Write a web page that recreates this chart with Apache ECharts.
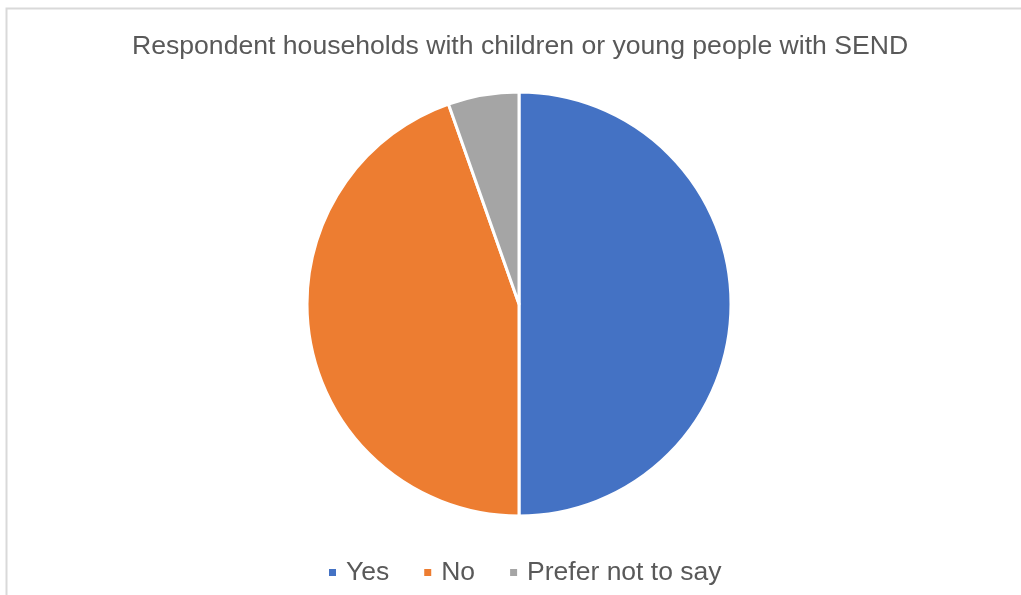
<!DOCTYPE html>
<html><head><meta charset="utf-8">
<script src="https://cdn.jsdelivr.net/npm/echarts@6/dist/echarts.min.js"></script>
<style>html,body{margin:0;padding:0;background:#fff}#c{width:1021px;height:595px}</style>
</head><body><div id="c"></div>
<script>
const titleText = 'Respondent households with children or young people with SEND';
const categories = ['Yes', 'No', 'Prefer not to say'];
const values = [50.0, 44.6, 5.4];
const colors = ['#4472C4', '#ED7D31', '#A5A5A5'];

const chart = echarts.init(document.getElementById('c'), null, {renderer: 'canvas'});
chart.setOption({
  animation: false,
  backgroundColor: '#fff',
  graphic: [{type: 'rect', shape: {x: 6.5, y: 8.5, width: 1100, height: 700}, style: {fill: 'none', stroke: '#D9D9D9', lineWidth: 2}, silent: true}],
  title: {text: titleText, left: 127, top: 28, textStyle: {fontFamily: 'Liberation Sans, Arial, sans-serif', fontSize: 26.6, fontWeight: 'normal', color: '#595959'}},
  legend: {
    data: categories, bottom: 4, left: 322, icon: 'rect', itemWidth: 9, itemHeight: 9, itemGap: 33,
    textStyle: {fontFamily: 'Liberation Sans, Arial, sans-serif', fontSize: 26.5, color: '#595959', padding: [0, 0, 0, 4]}
  },
  series: [{
    type: 'pie', center: [519, 304], radius: [0, 212], startAngle: 90, clockwise: true,
    label: {show: false}, labelLine: {show: false}, emphasis: {disabled: true},
    itemStyle: {borderColor: '#fff', borderWidth: 3},
    data: categories.map((n, i) => ({name: n, value: values[i], itemStyle: {color: colors[i]}}))
  }]
});
</script></body></html>
